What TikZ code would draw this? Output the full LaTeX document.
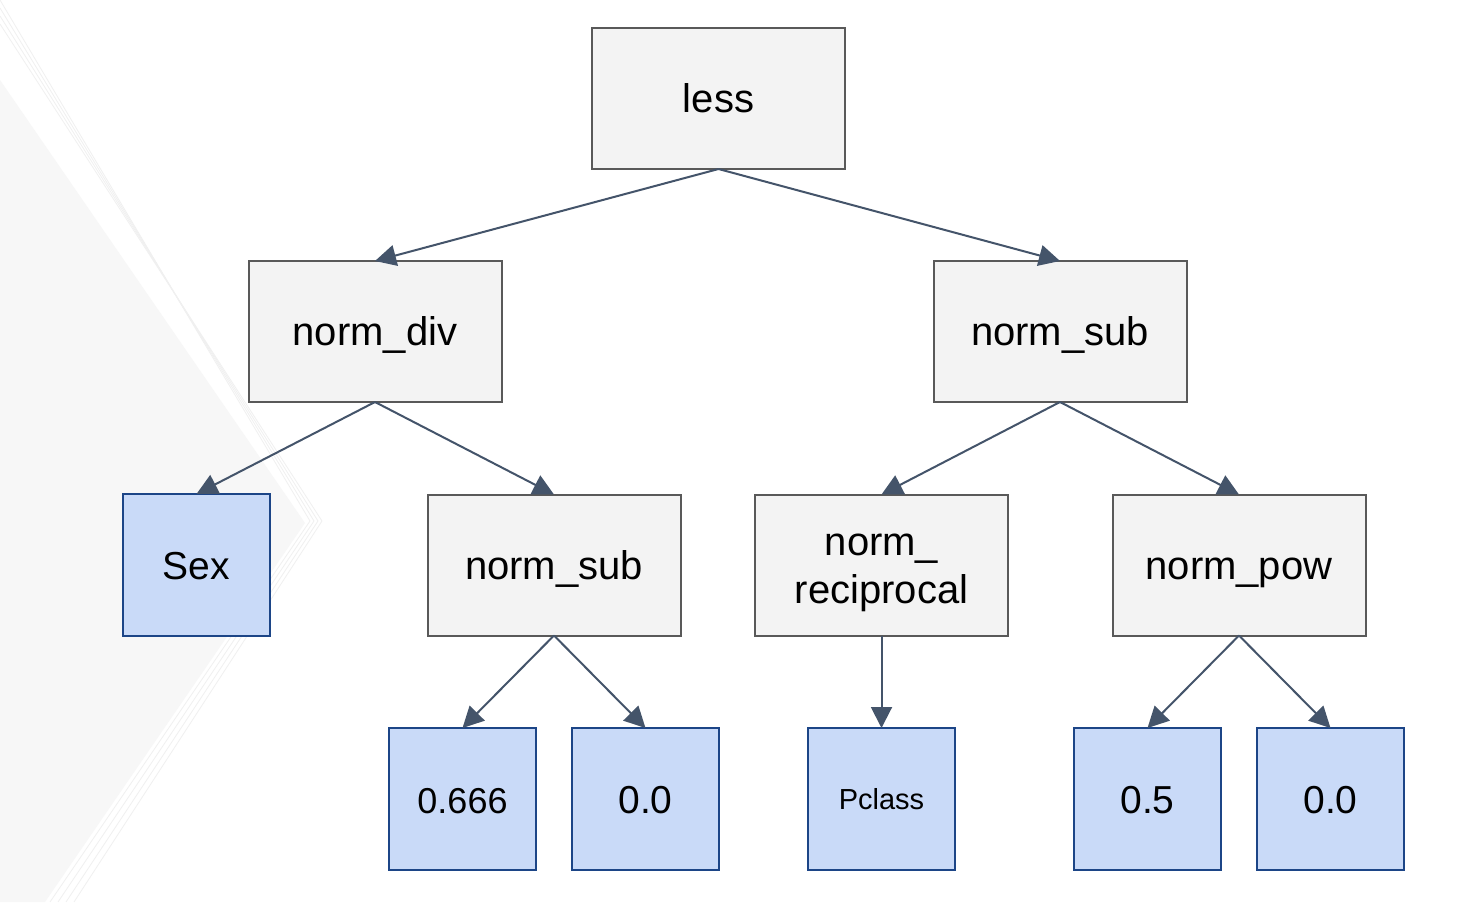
\documentclass[tikz,border=0pt]{standalone}
\usepackage{fontspec}
\setmainfont{Liberation Sans}
\usetikzlibrary{arrows.meta}
\definecolor{grayfill}{RGB}{243,243,243}
\definecolor{grayline}{RGB}{89,89,89}
\definecolor{bluefill}{RGB}{201,218,248}
\definecolor{blueline}{RGB}{28,69,135}
\definecolor{edgecol}{RGB}{68,84,106}
\definecolor{bgchev}{RGB}{247,247,247}
\definecolor{bgline}{RGB}{240,240,240}
\tikzset{
  opbox/.style={draw=grayline, fill=grayfill, line width=2pt, minimum width=253pt, minimum height=141pt, inner sep=0pt, outer sep=0pt, align=center, font=\fontsize{40}{48}\selectfont},
  onel/.style={text height=28pt, text depth=0pt},
  leafbox/.style={draw=blueline, fill=bluefill, line width=2pt, minimum width=147pt, minimum height=142pt, inner sep=0pt, outer sep=0pt, align=center, font=\fontsize{39}{46}\selectfont, onel},
  plaintext/.style={inner sep=0pt, align=center, font=\fontsize{40}{48}\selectfont},
  edge/.style={draw=edgecol, line width=2pt, -{Triangle[length=21pt,width=21pt]}}
}
\begin{document}
\begin{tikzpicture}[x=1pt,y=-1pt]
\useasboundingbox (0,0) rectangle (1469,902);
\fill[white] (0,0) rectangle (1469,902);
% background chevron
\fill[bgchev] (0,80) -- (305,523) -- (45,902) -- (0,902) -- cycle;
\foreach \d in {0,8,16,24} {
  \draw[bgline, line width=0.8pt] (0,\d) -- (310+\d/2,521) -- (50+\d,902);
}
% nodes
\node[opbox, onel] (less) at (718.5,98.5) {less};
\node[opbox, onel] (div) at (375,331.5) {norm\_div};
\node[opbox, onel] (subR) at (1060,331.5) {norm\_sub};
\node[leafbox] (sex) at (196.5,565) {Sex};
\node[opbox, onel] (subL) at (554,565) {norm\_sub};
\node[opbox] (recip) at (881.5,565) {};
\node[plaintext] (reciptext) at ([yshift=-8pt]recip.center) {norm\_\\reciprocal};
\node[opbox, onel] (pow) at (1239,565) {norm\_pow};
\node[leafbox, font=\fontsize{36}{42}\selectfont] (a) at (462.5,799) {0.666};
\node[leafbox] (b) at (645.5,799) {0.0};
\node[leafbox, font=\fontsize{29}{34}\selectfont, text height=21pt] (pc) at (881.5,799) {Pclass};
\node[leafbox] (c) at (1147.5,799) {0.5};
\node[leafbox] (d) at (1330.5,799) {0.0};
% edges
\draw[edge] (less.south) -- (div.north);
\draw[edge] (less.south) -- (subR.north);
\draw[edge] (div.south) -- (sex.north);
\draw[edge] (div.south) -- (subL.north);
\draw[edge] (subR.south) -- (recip.north);
\draw[edge] (subR.south) -- (pow.north);
\draw[edge] (subL.south) -- (a.north);
\draw[edge] (subL.south) -- (b.north);
\draw[edge] (recip.south) -- (pc.north);
\draw[edge] (pow.south) -- (c.north);
\draw[edge] (pow.south) -- (d.north);
\end{tikzpicture}
\end{document}
